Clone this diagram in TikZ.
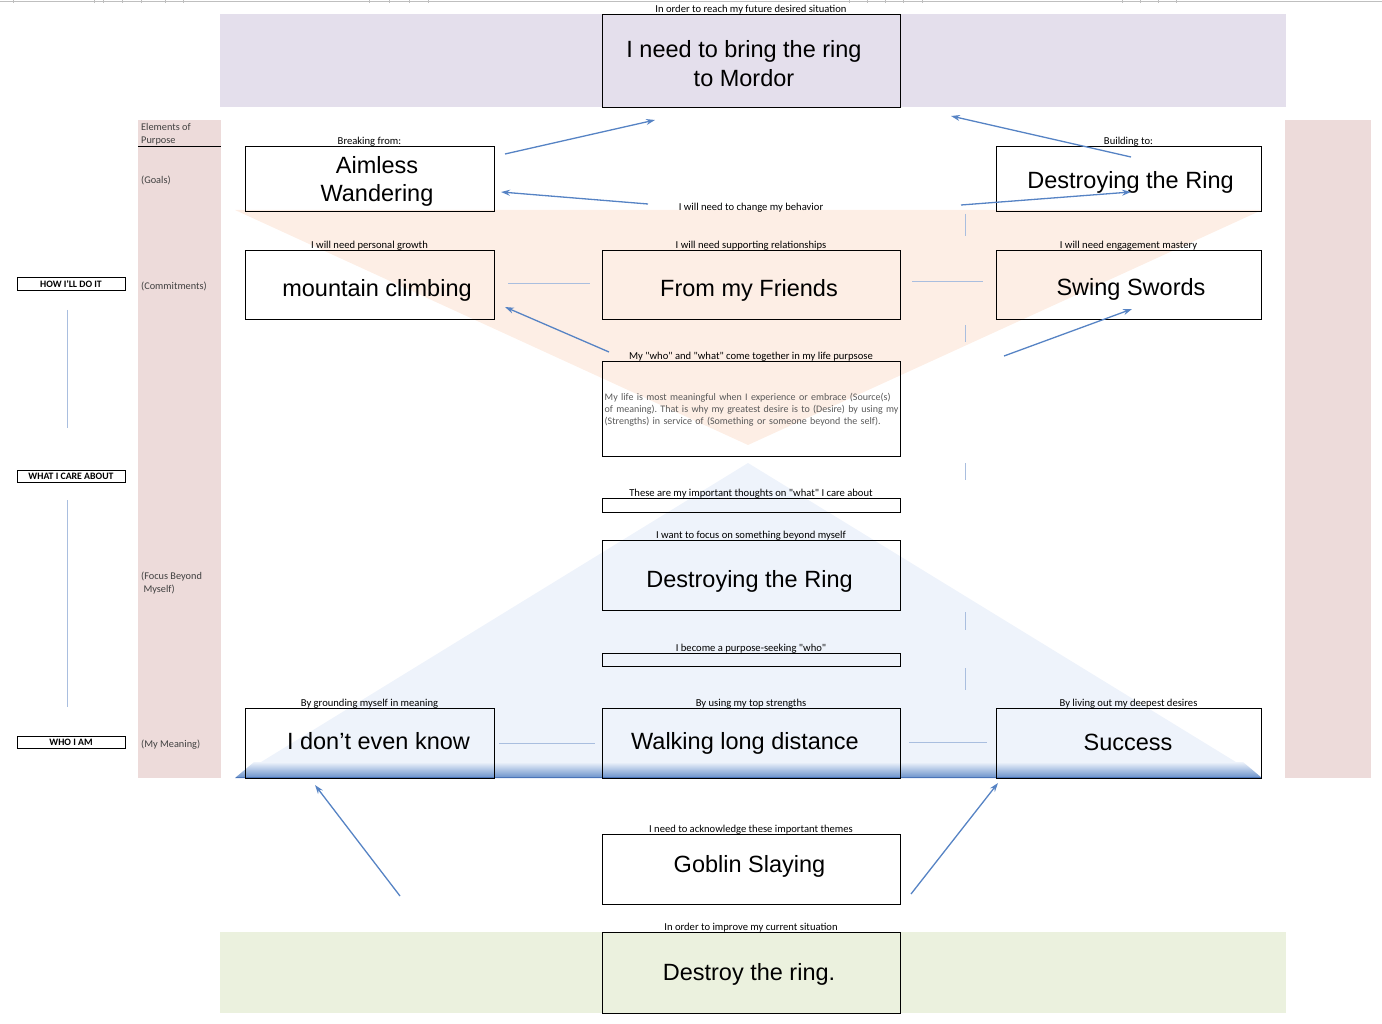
\documentclass[tikz,border=0pt]{standalone}
\usepackage{fontspec}
\setmainfont{Liberation Sans}
\newfontfamily\calfont{Carlito}
\usetikzlibrary{arrows.meta}
\definecolor{bandpurple}{HTML}{E4DFEC}
\definecolor{bandpink}{HTML}{EDDBDA}
\definecolor{bandgreen}{HTML}{EBF1DE}
\definecolor{triorange}{HTML}{FDEEE5}
\definecolor{triblue}{HTML}{EEF3FB}
\definecolor{arrowblue}{HTML}{5683C4}
\definecolor{faintblue}{HTML}{A9BEDF}
\definecolor{bodygray}{HTML}{595959}
\definecolor{deepblue}{HTML}{4A74B8}
\tikzset{
  box/.style={draw=black, line width=0.9pt, inner sep=0pt},
  lbl/.style={font=\calfont\fontsize{10.6}{12}\selectfont, inner sep=1pt, anchor=south, text=black, yshift=-1.5pt},
  side/.style={font=\calfont\fontsize{10.3}{13}\selectfont, anchor=west, align=left, inner sep=0pt, text=black!75},
  tag/.style={draw=black, line width=0.8pt, minimum width=108pt, minimum height=12.5pt, inner sep=0pt, font=\calfont\bfseries\fontsize{9.8}{10}\selectfont},
  big/.style={font=\fontsize{23.5}{28.5}\selectfont, align=center, inner sep=0pt},
  arr/.style={draw=arrowblue, line width=1.3pt, -{Stealth[length=9pt,width=6pt,inset=3pt]}},
  faint/.style={draw=faintblue, line width=0.8pt}
}
\begin{document}
\begin{tikzpicture}[x=1pt,y=-1pt]
\useasboundingbox (0,0) rectangle (1382,1024);
% top sheet line
\draw[gray!50, line width=0.6pt] (0,1.5) -- (1382,1.5);
\foreach \t in {13,94,103,122,141,165,183,369,389,409,428,849,867,885,903,922,1122,1140,1158,1176}
  \draw[gray!50, line width=0.5pt] (\t,0) -- (\t,3);
% bands
\fill[bandpurple] (220,14) rectangle (1286,107);
\fill[bandgreen] (220,932) rectangle (1286,1013);
\fill[bandpink] (138,120) rectangle (221,778);
\fill[bandpink] (1285,120) rectangle (1371,778);
% triangles
\fill[triorange] (235,210) -- (1262,210) -- (748,445) -- cycle;
\fill[triblue] (748,463) -- (1262,778) -- (235,778) -- cycle;
\shade[top color=triblue, bottom color=arrowblue!90] (254,762) -- (1243,762) -- (1262,778) -- (235,778) -- cycle;
\draw[deepblue, line width=1.4pt] (236,777.3) -- (1261,777.3);
% left column
\node[side] (elem) at (141,134) {Elements of\\Purpose};
\draw[black, line width=0.9pt] (138,146.5) -- (221,146.5);
\node[side] (goals) at (141,180) {(Goals)};
\node[side] (commit) at (141,286) {(Commitments)};
\node[side] (focus) at (141,583.5) {(Focus Beyond\\\ Myself)};
\node[side] (mymean) at (141,745) {(My Meaning)};
% tags
\node[tag] (how) at (71,284) {HOW I'LL DO IT};
\node[tag] (what) at (71,476.5) {WHAT I CARE ABOUT};
\node[tag] (who) at (71,742.5) {WHO I AM};
\coordinate (lv1a) at (67,310); \coordinate (lv1b) at (67,428);
\coordinate (lv2a) at (67,500); \coordinate (lv2b) at (67,707);
\draw[faint] (lv1a) -- (lv1b);
\draw[faint] (lv2a) -- (lv2b);
% boxes
\node[box, minimum width=298pt, minimum height=93pt] (topb) at (751,60.5) {};
\node[big] (toptext) at (744,63.5) {I need to bring the ring\\to Mordor};
\node[lbl] at (topb.north) {In order to reach my future desired situation};

\node[box, minimum width=249pt, minimum height=65pt] (aim) at (369.5,178.5) {};
\node[big] at (377,181.5) {Aimless\\Wandering};
\node[lbl] at (aim.north) {Breaking from:};
\node[box, minimum width=265pt, minimum height=65pt] (dest1) at (1128.5,178.5) {};
\node[big] at (1130.5,182.5) {Destroying the Ring};
\node[lbl] at (dest1.north) {Building to:};
\node[lbl] (behav) at (751,212) {I will need to change my behavior};

\node[box, minimum width=249pt, minimum height=69pt] (mount) at (369.5,284.5) {};
\node[big] at (377,290) {mountain climbing};
\node[lbl] at (mount.north) {I will need personal growth};
\node[box, minimum width=298pt, minimum height=69pt] (friends) at (751,284.5) {};
\node[big] at (749,290.5) {From my Friends};
\node[lbl] at (friends.north) {I will need supporting relationships};
\node[box, minimum width=265pt, minimum height=69pt] (swing) at (1128.5,284.5) {};
\node[big] at (1131,289) {Swing Swords};
\node[lbl] at (swing.north) {I will need engagement mastery};

\node[box, minimum width=298pt, minimum height=95pt] (life) at (751,408.5) {};
\node[lbl] at (life.north) {My "who" and "what" come together in my life purpsose};
\node[anchor=north west, text width=296pt, align=left, inner sep=0pt, text=bodygray,
  font=\calfont\fontsize{10}{12.2}\selectfont\frenchspacing] (lifetext) at (604.5,392.5)
  {My life is most meaningful when I experience or embrace (Source(s) of meaning). That is why my greatest desire is to (Desire) by using my (Strengths) in service of (Something or someone beyond the self).};

\node[box, minimum width=298pt, minimum height=14pt] (thought) at (751,505) {};
\node[lbl] at (thought.north) {These are my important thoughts on "what" I care about};
\node[box, minimum width=298pt, minimum height=70pt] (dest2) at (751,575) {};
\node[big] at (749.5,581) {Destroying the Ring};
\node[lbl] at (dest2.north) {I want to focus on something beyond myself};
\node[box, minimum width=298pt, minimum height=13pt] (seek) at (751,659.5) {};
\node[lbl] at (seek.north) {I become a purpose-seeking "who"};

\node[box, minimum width=249pt, minimum height=70pt] (know) at (369.5,743) {};
\node[big] at (378.5,741) {I don’t even know};
\node[lbl] at (know.north) {By grounding myself in meaning};
\node[box, minimum width=298pt, minimum height=70pt] (walk) at (751,743) {};
\node[big] at (745,743) {Walking long distance};
\node[lbl] at (walk.north) {By using my top strengths};
\node[box, minimum width=265pt, minimum height=70pt] (succ) at (1128.5,743) {};
\node[big] at (1128,742) {Success};
\node[lbl] at (succ.north) {By living out my deepest desires};

\node[box, minimum width=298pt, minimum height=70pt] (gob) at (751,869) {};
\node[big] at (749.5,866) {Goblin Slaying};
\node[lbl] at (gob.north) {I need to acknowledge these important themes};
\node[box, minimum width=298pt, minimum height=81pt] (dring) at (751,972.5) {};
\node[big] at (749,974) {Destroy the ring.};
\node[lbl] at (dring.north) {In order to improve my current situation};

% main arrows
\coordinate (a1s) at (505,154); \coordinate (a1e) at (655,120);
\coordinate (a2s) at (648,204); \coordinate (a2e) at (501,192);
\coordinate (a3s) at (1131,157); \coordinate (a3e) at (951,116);
\coordinate (a4s) at (961,205); \coordinate (a4e) at (1131,192);
\coordinate (a5s) at (609,352); \coordinate (a5e) at (505,307);
\coordinate (a6s) at (1004,356); \coordinate (a6e) at (1132,309);
\coordinate (a7s) at (400,896); \coordinate (a7e) at (315,785);
\coordinate (a8s) at (911,894); \coordinate (a8e) at (998,783);
\draw[arr] (a1s) -- (a1e);
\draw[arr] (a2s) -- (a2e);
\draw[arr] (a3s) -- (a3e);
\draw[arr] (a4s) -- (a4e);
\draw[arr] (a5s) -- (a5e);
\draw[arr] (a6s) -- (a6e);
\draw[arr] (a7s) -- (a7e);
\draw[arr] (a8s) -- (a8e);
% faint connectors
\coordinate (h1a) at (508,283); \coordinate (h1b) at (590,283);
\coordinate (h2a) at (912,281); \coordinate (h2b) at (983,281);
\coordinate (h3a) at (499,743); \coordinate (h3b) at (595,743);
\coordinate (h4a) at (909,742); \coordinate (h4b) at (987,742);
\draw[faint] (h1a) -- (h1b);
\draw[faint] (h2a) -- (h2b);
\draw[faint] (h3a) -- (h3b);
\draw[faint] (h4a) -- (h4b);
\foreach \ya/\yb in {214/236, 325/342, 463/480, 612/630, 668/690}
  \draw[faint] (965,\ya) -- (965,\yb);
\end{tikzpicture}
\end{document}
